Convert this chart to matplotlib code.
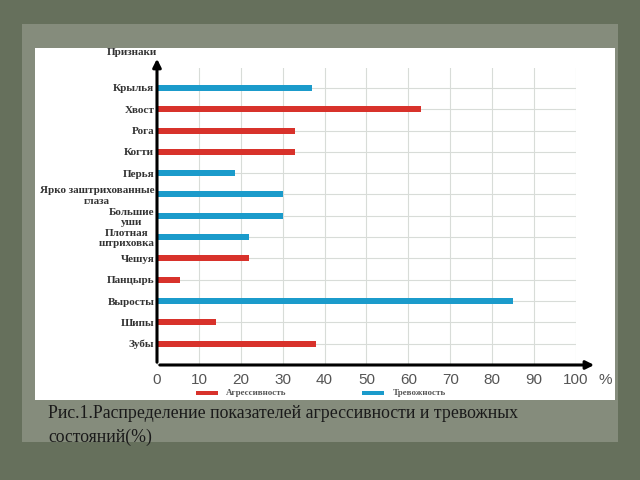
import matplotlib.pyplot as plt
from matplotlib.patches import Rectangle

categories = ["Крылья", "Хвост", "Рога", "Когти", "Перья",
              "Ярко заштрихованные\nглаза", "Большие\nуши", "Плотная\nштриховка",
              "Чешуя", "Панцырь", "Выросты", "Шипы", "Зубы"]
aggression = [0, 63, 33, 33, 0, 0, 0, 0, 22, 5.5, 0, 14, 38]
anxiety = [37, 0, 0, 0, 18.5, 30, 30, 22, 0, 0, 85, 0, 0]
xticks = [0, 10, 20, 30, 40, 50, 60, 70, 80, 90, 100]

red = "#d8322b"
blue = "#1b9bcb"

fig = plt.figure(figsize=(6.4, 4.8), dpi=100)
fig.patch.set_facecolor("#66705c")
# lighter paper area behind the panel
fig.patches.append(Rectangle((0.035, 0.08), 0.93, 0.87, transform=fig.transFigure,
                             facecolor="#858c7c", edgecolor="none", zorder=-2))
# white panel
fig.patches.append(Rectangle((0.055, 0.167), 0.906, 0.733, transform=fig.transFigure,
                             facecolor="white", edgecolor="none", zorder=-1))

ax = fig.add_axes([0.2453, 0.2396, 0.6547, 0.619])
ax.set_zorder(2)
ax.set_facecolor("none")

n = len(categories)
ys = [n - 1 - i for i in range(n)]

for y, a, t in zip(ys, aggression, anxiety):
    if a:
        ax.barh(y, a, height=0.28, color=red, zorder=3)
    if t:
        ax.barh(y, t, height=0.28, color=blue, zorder=3)

ax.set_xlim(0, 100)
ax.set_ylim(-1.0, n - 1 + 0.94)
ax.set_xticks(xticks)
ax.set_xticklabels([str(x) for x in xticks], fontsize=11, color="#555555",
                   family="Liberation Sans")
ax.set_yticks(ys)
ax.set_yticklabels(categories, fontsize=8, fontweight="bold", color="#333333",
                   family="Liberation Serif", ma="center", linespacing=1.15)
ax.tick_params(axis="y", length=0, pad=2)
ax.tick_params(axis="x", length=0, pad=6)
ax.grid(True, color="#d8dcd8", linewidth=0.8, zorder=0)
for s in ax.spines.values():
    s.set_visible(False)

# axes with arrows
ax.annotate("", xy=(0, 1.04), xytext=(0, 0), xycoords="axes fraction",
            arrowprops=dict(arrowstyle="-|>", color="black", lw=2.2, mutation_scale=12),
            annotation_clip=False)
ax.annotate("", xy=(1.05, 0), xytext=(0, 0), xycoords="axes fraction",
            arrowprops=dict(arrowstyle="-|>", color="black", lw=2.2, mutation_scale=12),
            annotation_clip=False)

ax.text(-0.06, 1.035, "Признаки", transform=ax.transAxes, ha="center", va="bottom",
        fontsize=8, fontweight="bold", color="#333333", family="Liberation Serif")
ax.text(1.07, -0.05, "%", transform=ax.transAxes, ha="center", va="center",
        fontsize=11, color="#555555", family="Liberation Sans")

# legend
fig.patches.append(Rectangle((196 / 640, 1 - 395 / 480), 22 / 640, 4 / 480,
                             transform=fig.transFigure, facecolor=red, zorder=3))
fig.patches.append(Rectangle((362 / 640, 1 - 395 / 480), 22 / 640, 4 / 480,
                             transform=fig.transFigure, facecolor=blue, zorder=3))
fig.text(226 / 640, 1 - 393 / 480, "Агрессивность", fontsize=6.5, fontweight="bold",
         color="#555555", family="Liberation Serif", va="center")
fig.text(393 / 640, 1 - 393 / 480, "Тревожность", fontsize=6.5, fontweight="bold",
         color="#555555", family="Liberation Serif", va="center")

fig.text(48 / 640, 1 - 405 / 480,
         "Рис.1.Распределение показателей агрессивности и тревожных\nсостояний(%)",
         fontsize=12.8, color="#1a1a1a", family="Liberation Serif", va="top",
         linespacing=1.5)

fig.savefig("out.png", dpi=100, facecolor=fig.get_facecolor())
